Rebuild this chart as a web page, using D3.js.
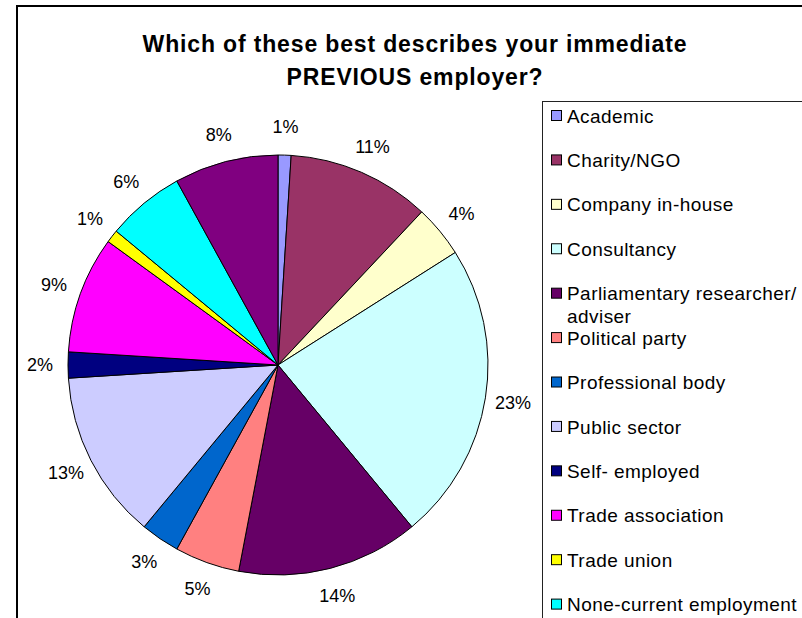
<!DOCTYPE html>
<html>
<head>
<meta charset="utf-8">
<script src="https://cdn.jsdelivr.net/npm/d3@7"></script>
<style>
  html, body { margin: 0; padding: 0; background: #fff; }
  svg { display: block; font-family: "Liberation Sans", Arial, sans-serif; }
</style>
</head>
<body>
<svg id="chart" width="802" height="618"></svg>
<script>
// Survey answers: previous employer type, share of respondents (%)
const categories = [
  "Academic", "Charity/NGO", "Company in-house", "Consultancy",
  "Parliamentary researcher/ adviser", "Political party", "Professional body",
  "Public sector", "Self- employed", "Trade association", "Trade union",
  "None-current employment", "Other"
];
const shares = [1, 11, 4, 23, 14, 5, 3, 13, 2, 9, 1, 6, 8];
const sliceColors = [
  "#9999FF", "#993366", "#FFFFCC", "#CCFFFF", "#660066", "#FF8080", "#0066CC",
  "#CCCCFF", "#000080", "#FF00FF", "#FFFF00", "#00FFFF", "#800080"
];
const titleLines = ["Which of these best describes your immediate", "PREVIOUS employer?"];

const svg = d3.select("#chart");
const W = 802, H = 618;

// chart frame
svg.append("rect")
  .attr("x", 17).attr("y", 6)
  .attr("width", W + 10).attr("height", H + 10)
  .attr("fill", "#fff").attr("stroke", "#000").attr("stroke-width", 2);

// title
const title = svg.append("text")
  .attr("text-anchor", "middle")
  .attr("font-weight", "bold")
  .attr("font-size", 23)
  .attr("letter-spacing", 0.85)
  .attr("fill", "#000");
titleLines.forEach((t, i) => {
  title.append("tspan").attr("x", 415).attr("y", 51.5 + i * 33).text(t);
});

// pie
const cx = 278, cy = 365, R = 210;
const color = d3.scaleOrdinal().domain(categories).range(sliceColors);
const data = categories.map((c, i) => ({ name: c, value: shares[i] }));
const total = d3.sum(shares);
const pie = d3.pie().value(d => d.value).sort(null);
const arc = d3.arc().innerRadius(0).outerRadius(R);
const labelArc = d3.arc().innerRadius(R + 28).outerRadius(R + 28);

const g = svg.append("g").attr("transform", `translate(${cx},${cy})`);
const arcs = pie(data);

g.selectAll("path.slice")
  .data(arcs)
  .join("path")
  .attr("class", "slice")
  .attr("d", arc)
  .attr("fill", d => color(d.data.name))
  .attr("stroke", "#000")
  .attr("stroke-width", 1)
  .attr("stroke-linejoin", "round");

const pct = d3.format(".0%");
g.selectAll("text.pct")
  .data(arcs)
  .join("text")
  .attr("class", "pct")
  .attr("transform", d => `translate(${labelArc.centroid(d)})`)
  .attr("text-anchor", "middle")
  .attr("dy", "0.35em")
  .attr("font-size", 18)
  .attr("fill", "#000")
  .text(d => pct(d.data.value / total));

// legend (the box runs past the bottom edge; only entries that fit are drawn)
const legend = svg.append("g");
legend.append("rect")
  .attr("x", 542.5).attr("y", 101.5)
  .attr("width", 300).attr("height", 600)
  .attr("fill", "#fff").attr("stroke", "#222").attr("stroke-width", 1);

const ly = d3.scaleLinear().domain([0, 11]).range([116, 604.6]);
const visible = categories.filter((c, i) => ly(i) + 10 < H);
const items = legend.selectAll("g.item")
  .data(visible)
  .join("g")
  .attr("class", "item")
  .attr("transform", (d, i) => `translate(0,${ly(i)})`);

items.append("rect")
  .attr("x", 551.5).attr("y", -5.5)
  .attr("width", 10).attr("height", 10)
  .attr("fill", d => color(d))
  .attr("stroke", "#000").attr("stroke-width", 1);

items.each(function(d) {
  const lines = d.startsWith("Parliamentary") ? ["Parliamentary researcher/", "adviser"] : [d];
  const t = d3.select(this).append("text")
    .attr("font-size", 19)
    .attr("letter-spacing", 0.45)
    .attr("fill", "#000");
  lines.forEach((ln, k) => {
    t.append("tspan").attr("x", 567).attr("y", k * 23).attr("dy", "0.35em").text(ln);
  });
});
</script>
</body>
</html>
